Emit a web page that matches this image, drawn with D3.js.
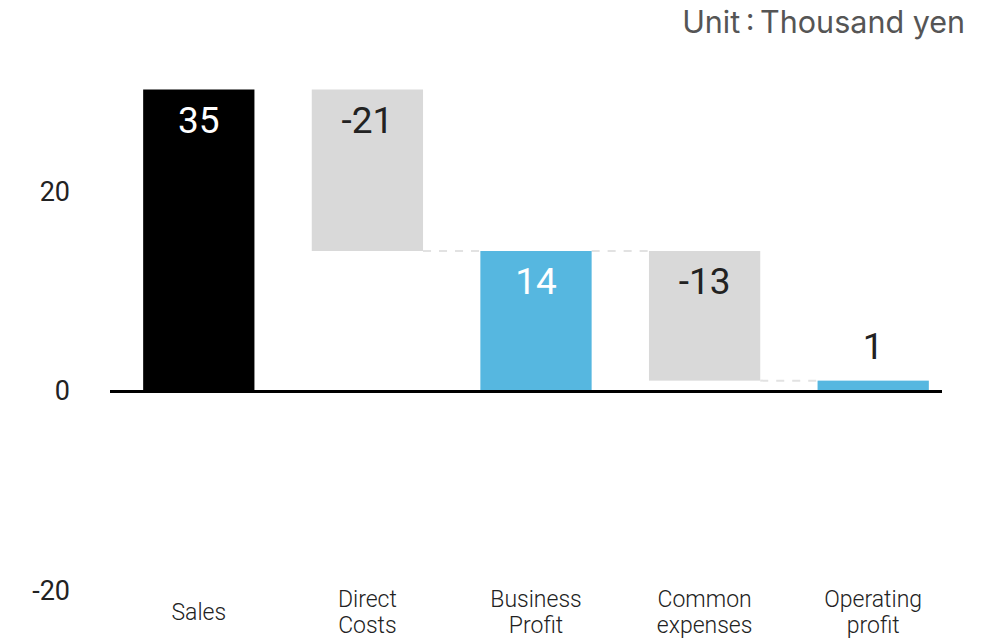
<!DOCTYPE html>
<html>
<head>
<meta charset="utf-8">
<script src="https://cdn.jsdelivr.net/npm/d3@7/dist/d3.min.js"></script>
<style>
  html, body { margin: 0; padding: 0; background: #fff; }
  svg { display: block; }
</style>
</head>
<body>
<svg id="chart" width="987" height="641"></svg>
<script>
// Waterfall of sales down to operating profit (thousand yen)
const categories = ["Sales", "Direct Costs", "Business Profit", "Common expenses", "Operating profit"];
const categoryLines = [["Sales"], ["Direct", "Costs"], ["Business", "Profit"], ["Common", "expenses"], ["Operating", "profit"]];
const values = [35, -21, 14, -13, 1];
const kinds = ["start", "delta", "total", "delta", "total"];
const yTicks = [-20, 0, 20];
const unitLabel = "Unit\u2009:\u2009Thousand yen";

const colors = { start: "#000000", delta: "#d9d9d9", total: "#56b7e0" };
const labelColors = { start: "#ffffff", delta: "#222222", total: "#ffffff" };

const svg = d3.select("#chart");

// Build running segments
let running = 0;
const segs = values.map((v, i) => {
  let y0, y1;
  if (kinds[i] === "delta") {
    y0 = running; y1 = running + v; running = y1;
  } else {
    y0 = 0; y1 = v; running = v;
  }
  return { cat: categories[i], lines: categoryLines[i], value: v, kind: kinds[i], y0, y1 };
});

const x = d3.scalePoint().domain(categories).range([114.5, 957.5]).padding(0.5);
const barW = x.step() * 0.66;
const y = d3.scaleLinear().domain([-20, 30.2]).range([590, 89.5]).clamp(true);

// Y tick labels (no axis line)
svg.append("g").selectAll("text").data(yTicks).join("text")
  .attr("x", 70).attr("y", d => y(d))
  .attr("dy", "0.36em")
  .attr("text-anchor", "end")
  .attr("font-family", "Roboto, Arial, sans-serif")
  .attr("font-size", 27)
  .attr("font-weight", 400)
  .attr("fill", "#222")
  .text(d => d);

// Connectors between consecutive bars
const conn = [];
for (let i = 0; i < segs.length - 1; i++) {
  const level = segs[i].y1;
  if (level > y.domain()[1]) continue;
  conn.push({ x1: x(segs[i].cat) + barW / 2, x2: x(segs[i + 1].cat) - barW / 2, level });
}
svg.append("g").selectAll("line").data(conn).join("line")
  .attr("x1", d => d.x1).attr("x2", d => d.x2)
  .attr("y1", d => y(d.level)).attr("y2", d => y(d.level))
  .attr("stroke", "#e2e2e2").attr("stroke-width", 2)
  .attr("stroke-dasharray", "8,8");

// Bars
svg.append("g").selectAll("rect").data(segs).join("rect")
  .attr("x", d => x(d.cat) - barW / 2)
  .attr("width", barW)
  .attr("y", d => y(Math.max(d.y0, d.y1)))
  .attr("height", d => Math.abs(y(d.y0) - y(d.y1)))
  .attr("fill", d => colors[d.kind]);

// Zero baseline
svg.append("line")
  .attr("x1", 110).attr("x2", 942)
  .attr("y1", y(0) + 1).attr("y2", y(0) + 1)
  .attr("stroke", "#000").attr("stroke-width", 3);

// Value labels: inside the top of tall bars, above short ones
svg.append("g").selectAll("text").data(segs).join("text")
  .each(function (d) {
    const top = y(Math.max(d.y0, d.y1));
    const h = Math.abs(y(d.y0) - y(d.y1));
    const inside = h > 50;
    d3.select(this)
      .attr("x", x(d.cat))
      .attr("y", inside ? top + 43 : top - 22)
      .attr("fill", inside ? labelColors[d.kind] : "#222");
  })
  .attr("text-anchor", "middle")
  .attr("font-family", "Roboto, Arial, sans-serif")
  .attr("font-size", 37)
  .attr("font-weight", 400)
  .text(d => d.value);

// Category labels
const cats = svg.append("g").selectAll("text").data(segs).join("text")
  .attr("x", d => x(d.cat))
  .attr("text-anchor", "middle")
  .attr("font-family", "Roboto, Arial, sans-serif")
  .attr("font-size", 23)
  .attr("font-weight", 300)
  .attr("fill", "#222");
cats.each(function (d) {
  const n = d.lines.length;
  const first = 620 - (n - 1) * 13;
  d3.select(this).selectAll("tspan").data(d.lines).join("tspan")
    .attr("x", x(d.cat))
    .attr("y", (t, j) => first + j * 26)
    .text(t => t);
});

// Unit note
svg.append("text")
  .attr("x", 965).attr("y", 33)
  .attr("text-anchor", "end")
  .attr("font-family", "Inter, 'Open Sans', sans-serif")
  .attr("font-size", 30.5)
  .attr("fill", "#555")
  .text(unitLabel);
</script>
</body>
</html>
